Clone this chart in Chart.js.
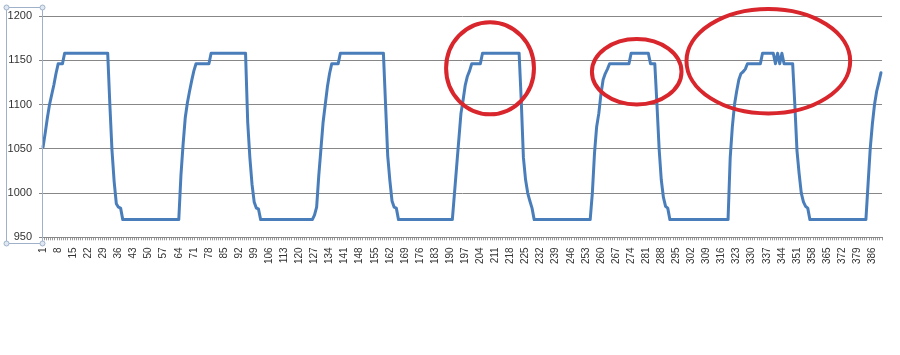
<!DOCTYPE html>
<html>
<head>
<meta charset="utf-8">
<script src="https://cdn.jsdelivr.net/npm/chart.js@4/dist/chart.umd.min.js"></script>
<style>
  html, body { margin: 0; padding: 0; background: #ffffff; }
  #wrap { width: 900px; height: 355px; }
</style>
</head>
<body>
<div id="wrap"><canvas id="c" width="900" height="355"></canvas></div>
<script>
// ---- data ----
const pointCount = 390;
const categories = Array.from({ length: pointCount }, (_, i) => String(i + 1));
const labelEvery = 7;

const cycle1 = [1052, 1068, 1085, 1100, 1111, 1122, 1135, 1146, 1146, 1146,
  1158, 1158, 1158, 1158, 1158, 1158, 1158, 1158, 1158, 1158, 1158, 1158, 1158, 1158, 1158, 1158, 1158, 1158, 1158, 1158, 1158,
  1100, 1048, 1013, 988, 984, 983,
  970, 970, 970, 970, 970, 970, 970, 970, 970, 970, 970, 970, 970, 970, 970, 970, 970, 970, 970, 970, 970, 970, 970, 970, 970, 970, 970];
const cycle2 = [1020, 1055, 1085, 1102, 1115, 1127, 1138,
  1146, 1146, 1146, 1146, 1146, 1146, 1146,
  1158, 1158, 1158, 1158, 1158, 1158, 1158, 1158, 1158, 1158, 1158, 1158, 1158, 1158, 1158, 1158, 1158,
  1080, 1040, 1010, 990, 983, 982,
  970, 970, 970, 970, 970, 970, 970, 970, 970, 970, 970, 970, 970, 970, 970, 970, 970, 970, 970, 970, 970, 970, 970, 970, 970];
const cycle3 = [975, 984, 1020, 1050, 1080, 1100, 1120, 1135,
  1146, 1146, 1146, 1146,
  1158, 1158, 1158, 1158, 1158, 1158, 1158, 1158, 1158, 1158, 1158, 1158, 1158, 1158, 1158, 1158, 1158, 1158, 1158, 1158, 1158,
  1100, 1042, 1014, 991, 984, 983,
  970, 970, 970, 970, 970, 970, 970, 970, 970, 970, 970, 970, 970, 970, 970, 970, 970, 970, 970, 970, 970, 970, 970, 970, 970, 970];
const cycle4 = [1000, 1030, 1060, 1090, 1105, 1122, 1132, 1138,
  1146, 1146, 1146, 1146, 1146,
  1158, 1158, 1158, 1158, 1158, 1158, 1158, 1158, 1158, 1158, 1158, 1158, 1158, 1158, 1158, 1158, 1158, 1158,
  1104, 1040, 1015, 1000, 991, 983,
  970, 970, 970, 970, 970, 970, 970, 970, 970, 970, 970, 970, 970, 970, 970, 970, 970, 970, 970, 970, 970, 970, 970, 970, 970, 970, 970];
const cycle5 = [1000, 1045, 1075, 1090, 1112, 1128, 1135, 1140,
  1146, 1146, 1146, 1146, 1146, 1146, 1146, 1146, 1146, 1146,
  1158, 1158, 1158, 1158, 1158, 1158, 1158, 1158, 1158,
  1146, 1146, 1146,
  1100, 1050, 1015, 995, 985, 983,
  970, 970, 970, 970, 970, 970, 970, 970, 970, 970, 970, 970, 970, 970, 970, 970, 970, 970, 970, 970, 970, 970, 970, 970, 970, 970, 970, 970];
const cycle6 = [1040, 1075, 1100, 1115, 1128, 1135, 1137, 1140,
  1146, 1146, 1146, 1146, 1146, 1146, 1146,
  1158, 1158, 1158, 1158, 1158, 1158,
  1146, 1158, 1146, 1158,
  1146, 1146, 1146, 1146, 1146,
  1100, 1048, 1022, 1000, 990, 985, 983,
  970, 970, 970, 970, 970, 970, 970, 970, 970, 970, 970, 970, 970, 970, 970, 970, 970, 970, 970, 970, 970, 970, 970, 970, 970, 970, 970];
const cycle7 = [1010, 1050, 1078, 1100, 1115, 1125, 1136];

const seriesValues = [].concat(cycle1, cycle2, cycle3, cycle4, cycle5, cycle6, cycle7);

const yMin = 950, yMax = 1200, yStep = 50;

// hand-drawn red annotation ellipses, in data units (category number, value)
const ellipseCenterCat = [208.5, 276.6, 337.7];
const ellipseCenterVal = [1141, 1137, 1149];
const ellipseRadiusCat = [20.4, 20.8, 38.0];
const ellipseRadiusVal = [52, 37, 59];

// ---- drawing ----
const overlayPlugin = {
  id: 'overlay',
  afterDraw(chart) {
    const ctx = chart.ctx;
    const xs = chart.scales.x, ys = chart.scales.y;
    const ca = chart.chartArea;
    // Excel-style selection frame around the value axis
    ctx.save();
    ctx.strokeStyle = '#9fb1c9';
    ctx.lineWidth = 1;
    const bx0 = 6.5, bx1 = Math.round(ca.left) + 0.5, by0 = Math.round(ca.top) - 8.5, by1 = Math.round(ca.bottom) + 6.5;
    ctx.strokeRect(bx0, by0, bx1 - bx0, by1 - by0);
    ctx.fillStyle = '#dfe7f2';
    [[bx0, by0], [bx1, by0], [bx0, by1], [bx1, by1]].forEach(([px, py]) => {
      ctx.beginPath();
      ctx.arc(px, py, 2.5, 0, Math.PI * 2);
      ctx.fill();
      ctx.stroke();
    });
    ctx.restore();

    // red ellipses
    const catW = xs.getPixelForValue(1) - xs.getPixelForValue(0);
    ctx.save();
    ctx.strokeStyle = '#d8262c';
    ctx.lineWidth = 4;
    for (let k = 0; k < ellipseCenterCat.length; k++) {
      const cx = xs.getPixelForValue(ellipseCenterCat[k] - 1);
      const cy = ys.getPixelForValue(ellipseCenterVal[k]);
      const rx = ellipseRadiusCat[k] * catW;
      const ry = Math.abs(ys.getPixelForValue(ellipseCenterVal[k] + ellipseRadiusVal[k]) - cy);
      ctx.beginPath();
      ctx.ellipse(cx, cy, rx, ry, 0, 0, Math.PI * 2);
      ctx.stroke();
    }
    ctx.restore();
  }
};

new Chart(document.getElementById('c'), {
  type: 'line',
  data: {
    labels: categories,
    datasets: [{
      data: seriesValues,
      borderColor: '#4a7ebb',
      borderWidth: 3,
      borderJoinStyle: 'round',
      borderCapStyle: 'round',
      pointRadius: 0,
      tension: 0,
      fill: false
    }]
  },
  options: {
    responsive: false,
    animation: false,
    devicePixelRatio: 1,
    layout: { padding: { top: 16, right: 14, bottom: 84, left: 0 } },
    plugins: { legend: { display: false }, tooltip: { enabled: false } },
    scales: {
      x: {
        type: 'category',
        offset: true,
        grid: { display: true, offset: true, drawOnChartArea: false, drawTicks: true, tickLength: 3, color: '#9a9a9a' },
        border: { display: true, color: '#878787' },
        ticks: {
          autoSkip: false,
          minRotation: 90,
          maxRotation: 90,
          padding: 7,
          color: '#333333',
          font: { family: 'Liberation Sans', size: 10 },
          callback: (v, i) => (i % labelEvery === 0 ? categories[i] : '')
        }
      },
      y: {
        min: yMin,
        max: yMax,
        afterFit: (s) => { s.width = 42; },
        grid: { color: '#878787', tickLength: 3 },
        border: { display: true, color: '#878787' },
        ticks: {
          stepSize: yStep,
          padding: 7,
          color: '#333333',
          font: { family: 'Liberation Sans', size: 11 },
          callback: (v) => String(v)
        }
      }
    }
  },
  plugins: [overlayPlugin]
});
</script>
</body>
</html>
